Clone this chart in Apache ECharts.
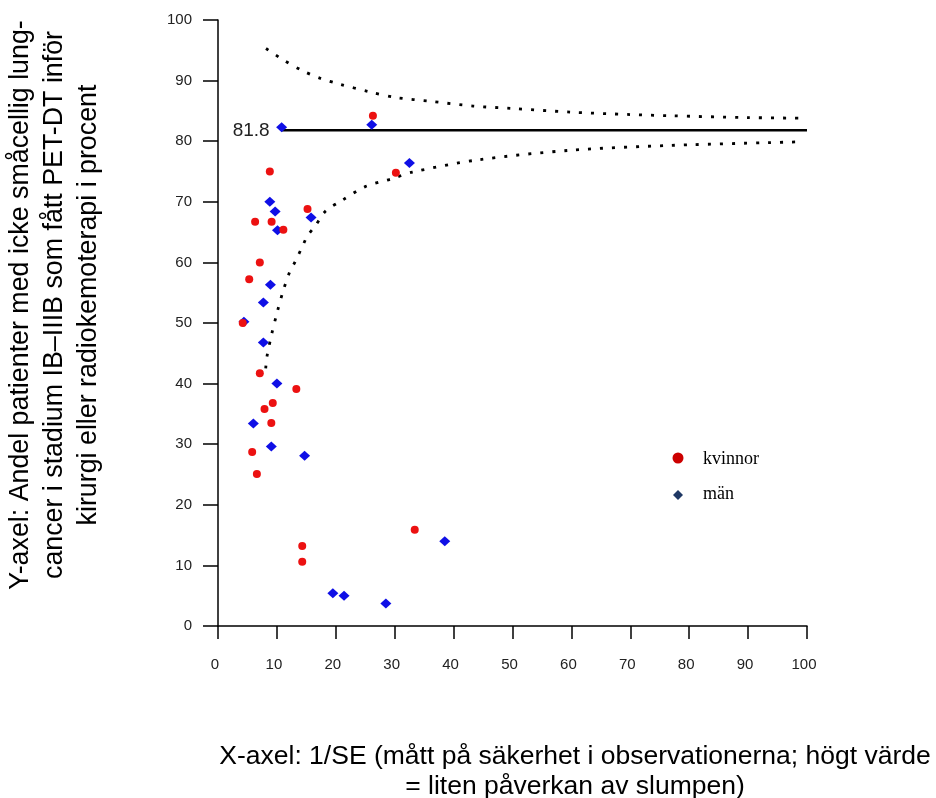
<!DOCTYPE html>
<html>
<head>
<meta charset="utf-8">
<script src="https://cdn.jsdelivr.net/npm/echarts@6/dist/echarts.min.js"></script>
<style>html,body{margin:0;padding:0;background:#fff;}#c{width:936px;height:798px;}</style>
</head>
<body>
<div id="c"></div>
<script>
// Tick labels
const xTicks = [0,10,20,30,40,50,60,70,80,90,100];
const yTicks = [0,10,20,30,40,50,60,70,80,90,100];

// kvinnor (women) points: [1/SE, percent]
const kvinnor = [
  [26.3,84.2],[30.2,74.8],[8.8,75.0],[6.3,66.7],[9.1,66.7],[11.1,65.4],[15.2,68.8],
  [7.1,60.0],[5.3,57.2],[4.2,50.0],[7.1,41.7],[13.3,39.1],[9.3,36.8],[7.9,35.8],
  [9.05,33.5],[5.8,28.7],[6.6,25.1],[14.3,13.2],[14.3,10.6],[33.4,15.9]
];
// män (men) points
const man = [
  [10.8,82.3],[26.1,82.7],[32.5,76.4],[8.8,70.0],[9.7,68.4],[10.1,65.3],[15.8,67.4],
  [8.9,56.3],[7.7,53.4],[4.4,50.2],[7.7,46.8],[10.0,40.0],[6.0,33.4],[9.05,29.6],
  [14.7,28.1],[19.5,5.4],[21.4,5.0],[28.5,3.7],[38.5,14.0]
];
// overall mean line
const meanValue = 81.8;
const meanLine = [[10.8,81.8],[100,81.8]];
// funnel limits
const upperLimit = [
  [8.15,95.3],[11.1,93.4],[14.2,91.7],[17.3,90.4],[20.7,89.4],[25.5,88.2],[30.3,87.2],
  [36,86.6],[43.3,85.8],[50,85.4],[59.8,84.8],[70,84.4],[76.7,84.2],[90,83.9],[99.1,83.8]
];
const lowerLimit = [
  [8.1,42.5],[8.3,44.4],[9.1,48.1],[10.0,51.6],[11.0,55.1],[12.2,58.5],[13.1,60.1],
  [14.5,63.0],[15.2,64.4],[16.5,66.0],[18.2,68.4],[21,70.2],[25,72.5],[29.5,73.8],
  [33,74.9],[44,76.9],[59.8,78.5],[76.7,79.3],[99.1,79.9]
];

const chart = echarts.init(document.getElementById('c'), null, {renderer:'canvas'});
const dotStyle = {color:'#000', width:2.8, type:[3,9], cap:'butt'};
const SANS = 'Liberation Sans, Arial, sans-serif';
chart.setOption({
  animation:false,
  backgroundColor:'#fff',
  grid:{left:218, right:129, top:20, bottom:172, containLabel:false},
  xAxis:{
    type:'value', min:0, max:100, interval:10,
    axisLine:{show:true, onZero:false, lineStyle:{color:'#000', width:1.5}},
    axisTick:{show:true, length:13, lineStyle:{color:'#000', width:1.5}},
    axisLabel:{margin:31, color:'#222', fontFamily:SANS, fontSize:15,
      padding:[0,6,0,0], formatter:v=>xTicks.includes(v)?String(v):''},
    splitLine:{show:false}
  },
  yAxis:{
    type:'value', min:0, max:100, interval:10,
    axisLine:{show:true, onZero:false, lineStyle:{color:'#000', width:1.5}},
    axisTick:{show:true, length:15, lineStyle:{color:'#000', width:1.5}},
    axisLabel:{margin:26, color:'#222', fontFamily:SANS, fontSize:15,
      formatter:v=>yTicks.includes(v)?String(v):''},
    splitLine:{show:false}
  },
  series:[
    {type:'line', data:upperLimit, symbol:'none', smooth:0.3, lineStyle:dotStyle, silent:true, z:1},
    {type:'line', data:lowerLimit, symbol:'none', smooth:0.3, lineStyle:dotStyle, silent:true, z:1},
    {type:'line', data:meanLine, symbol:'circle', symbolSize:0, showSymbol:true,
      itemStyle:{color:'#000'}, lineStyle:{color:'#000', width:2.5}, z:2,
      label:{show:true, position:'left', distance:12, color:'#222', fontFamily:SANS, fontSize:19,
        formatter:p=>p.dataIndex===0?String(meanValue):''}},
    {name:'män', type:'scatter', data:man, symbol:'diamond', symbolSize:[11,10],
      itemStyle:{color:'#0f0fe6', opacity:1}, z:3},
    {name:'kvinnor', type:'scatter', data:kvinnor, symbol:'circle', symbolSize:8,
      itemStyle:{color:'#ec1111', opacity:1}, z:4}
  ],
  graphic:[
    {type:'text', x:55, y:305, rotation:Math.PI/2,
      style:{text:'Y-axel: Andel patienter med icke småcellig lung-\ncancer i stadium IB–IIIB som fått PET-DT inför\nkirurgi eller radiokemoterapi i procent',
        fontFamily:SANS, fontSize:26.8, lineHeight:34, fill:'#000',
        align:'center', verticalAlign:'middle'}},
    {type:'text', x:575, y:772,
      style:{text:'X-axel: 1/SE (mått på säkerhet i observationerna; högt värde\n= liten påverkan av slumpen)',
        fontFamily:SANS, fontSize:26.5, lineHeight:30, fill:'#000',
        align:'center', verticalAlign:'middle'}},
    {type:'circle', shape:{cx:678, cy:458, r:5.5}, style:{fill:'#cc0000'}},
    {type:'polygon', shape:{points:[[678,490],[683,495],[678,500],[673,495]]}, style:{fill:'#1f3864'}},
    {type:'text', x:703, y:459, style:{text:'kvinnor', fontFamily:'Liberation Serif, Times New Roman, serif', fontSize:18, fill:'#000', verticalAlign:'middle'}},
    {type:'text', x:703, y:494, style:{text:'män', fontFamily:'Liberation Serif, Times New Roman, serif', fontSize:18, fill:'#000', verticalAlign:'middle'}}
  ]
});
</script>
</body>
</html>
